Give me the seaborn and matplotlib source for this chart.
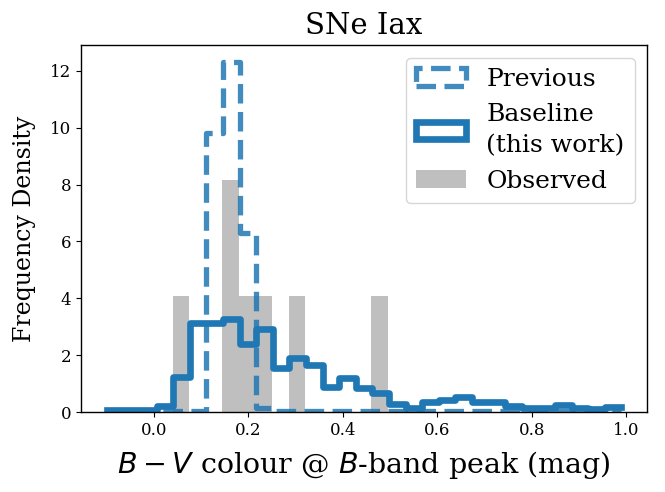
import numpy as np
import pandas as pd
import matplotlib
matplotlib.use("Agg")
import matplotlib.pyplot as plt
from matplotlib.patches import Patch
import seaborn as sns

# ---------------- data ----------------
model_range = (-0.10, 0.99)
model_nbins = 31
# Frequency density per bin, Baseline (this work)
baseline_density = [0.07, 0.07, 0.07, 0.22, 1.25, 3.15, 3.15, 3.28, 2.40, 2.92,
                    1.55, 1.90, 1.66, 0.90, 1.19, 0.87, 0.67, 0.29, 0.14, 0.37,
                    0.43, 0.52, 0.35, 0.35, 0.23, 0.16, 0.16, 0.26, 0.16, 0.12,
                    0.20]
# Frequency density per bin, Previous
previous_density = [0.05, 0.05, 0.05, 0.05, 0.05, 0.06, 9.81, 12.29, 6.29, 0.15,
                    0.05, 0.05, 0.05, 0.05, 0.05, 0.05, 0.05, 0.05, 0.05, 0.05,
                    0.05, 0.05, 0.05, 0.05, 0.05, 0.05, 0.05, 0.05, 0.05, 0.05,
                    0.05]
obs_range = (0.04, 0.495)
obs_nbins = 13
observed_density = [4.08, 0.0, 0.0, 8.16, 4.08, 4.08, 0.0, 4.08, 0.0, 0.0,
                    0.0, 0.0, 4.08]

labels = ["Previous", "Baseline\n(this work)", "Observed"]
title = "SNe Iax"
xlabel = r"$B-V$ colour @ $B$-band peak (mag)"
ylabel = "Frequency Density"

# ---------------- build tables ----------------
m_edges = np.linspace(model_range[0], model_range[1], model_nbins + 1)
m_centers = 0.5 * (m_edges[:-1] + m_edges[1:])
o_edges = np.linspace(obs_range[0], obs_range[1], obs_nbins + 1)
o_centers = 0.5 * (o_edges[:-1] + o_edges[1:])

df_model = pd.DataFrame({"bv": m_centers,
                         "baseline": baseline_density,
                         "previous": previous_density})
df_obs = pd.DataFrame({"bv": o_centers, "density": observed_density})

# ---------------- style ----------------
plt.rcParams.update({
    "font.family": "DejaVu Serif",
    "mathtext.fontset": "dejavusans",
    "xtick.labelsize": 12,
    "ytick.labelsize": 12,
    "axes.linewidth": 1.0,
})

blue = "#1f77b4"
prev_alpha = 0.85
lw_base = 4.8
lw_prev = 3.8

fig, ax = plt.subplots(figsize=(6.65, 4.92), dpi=100)
fig.subplots_adjust(left=0.122, right=0.973, top=0.9085, bottom=0.162)

sns.histplot(data=df_model, x="bv", weights="previous", bins=model_nbins,
             binrange=model_range,
             element="step", fill=False, color=blue, alpha=prev_alpha,
             linewidth=lw_prev, linestyle="--", ax=ax)
sns.histplot(data=df_model, x="bv", weights="baseline", bins=model_nbins,
             binrange=model_range,
             element="step", fill=False, color=blue,
             linewidth=lw_base, ax=ax)
sns.histplot(data=df_obs, x="bv", weights="density", bins=obs_nbins,
             binrange=obs_range,
             element="bars", fill=True, color="black", alpha=0.25,
             linewidth=0, edgecolor="none", ax=ax)

ax.set_xlim(-0.1545, 1.0445)
ax.set_ylim(0, 12.9)
ax.set_xticks([0.0, 0.2, 0.4, 0.6, 0.8, 1.0])
ax.set_yticks([0, 2, 4, 6, 8, 10, 12])
ax.set_xlabel(xlabel, fontsize=20.5, labelpad=7.5)
ax.set_ylabel(ylabel, fontsize=17, labelpad=10)
ax.set_title(title, fontsize=21, pad=8)

handles = [
    Patch(facecolor="none", edgecolor=blue, alpha=prev_alpha,
          linestyle="--", linewidth=lw_prev),
    Patch(facecolor="none", edgecolor=blue, linewidth=lw_base),
    Patch(facecolor="black", alpha=0.25, linewidth=0),
]
leg = ax.legend(handles, labels, loc="upper right", fontsize=18)
leg.get_texts()[1].set_linespacing(1.45)

fig.savefig("out.png", dpi=100)
